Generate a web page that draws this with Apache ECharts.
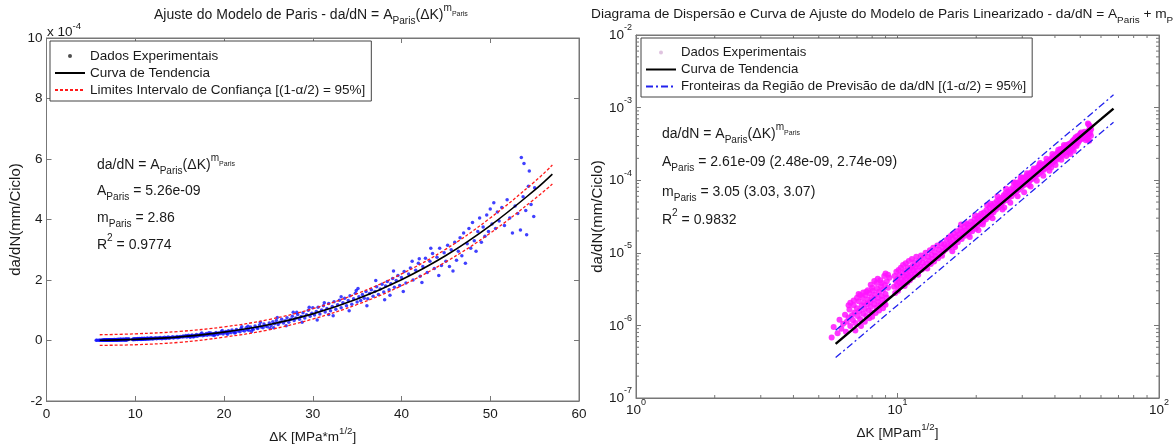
<!DOCTYPE html>
<html><head><meta charset="utf-8">
<script src="https://cdn.jsdelivr.net/npm/echarts@6/dist/echarts.min.js"></script>
<style>html,body{margin:0;padding:0;background:#fff}#c{width:1173px;height:448px}</style>
</head><body><div id="c"></div>
<script>
// ---- experimental data: [ΔK (MPa·m^1/2), da/dN (x1e-4 mm/ciclo)] ----
const expA = [[5.6,0.0068],[5.7,0.0095],[5.9,0.0078],[6.0,0.0120],[6.1,0.0090],[6.2,0.0105],[6.3,0.0140],[6.35,0.0082],[6.4,0.0112],[6.5,0.0128],[6.55,0.0165],[6.6,0.0098],[6.7,0.0138],[6.75,0.0118],[6.8,0.0190],[6.85,0.0150],[6.9,0.0108],[7.0,0.0172],[7.05,0.0135],[7.1,0.0215],[7.15,0.0158],[7.2,0.0122],[7.3,0.0188],[7.35,0.0240],[7.4,0.0145],[7.45,0.0205],[7.5,0.0170],[7.55,0.0260],[7.6,0.0135],[7.65,0.0195],[7.7,0.0225],[7.75,0.0160],[7.8,0.0280],[7.85,0.0210],[7.9,0.0180],[7.95,0.0245],[8.0,0.0150],[8.05,0.0300],[8.1,0.0228],[8.15,0.0195],[8.2,0.0265],[8.3,0.0175],[8.35,0.0320],[8.4,0.0240],[8.45,0.0210],[8.5,0.0290],[8.6,0.0190],[8.65,0.0345],[8.7,0.0255],[8.75,0.0225],[8.8,0.0310],[8.9,0.0205],[8.95,0.0360],[9.0,0.0270],[9.1,0.0240],[9.2,0.0330]];
const expH = [[6.5,0.0190],[6.8,0.0220],[7.0,0.0240],[7.2,0.0262],[7.4,0.0285],[7.7,0.0305],[7.9,0.0362],[8.0,0.0330],[8.3,0.0385],[8.4,0.0440],[8.6,0.0420],[8.9,0.0480],[9.0,0.0520],[9.1,0.0405],[9.3,0.0455],[6.9,0.0085],[7.5,0.0112],[7.8,0.0125],[8.0,0.0132],[8.5,0.0160],[9.0,0.0192],[7.25,0.0098],[8.25,0.0148],[8.8,0.0172],[7.6,0.0290],[8.15,0.0410],[8.7,0.0385],[6.6,0.0205],[7.1,0.0270],[9.2,0.0500]];
const expB = [[9.7,0.034],[9.75,0.048],[9.8,0.028],[9.85,0.041],[9.9,0.055],[9.95,0.036],[10.0,0.044],[10.05,0.030],[10.1,0.058],[10.15,0.039],[10.2,0.049],[10.25,0.034],[10.3,0.062],[10.35,0.043],[10.4,0.038],[10.45,0.053],[10.5,0.068],[10.55,0.040],[10.6,0.047],[10.65,0.035],[10.7,0.057],[10.75,0.072],[10.8,0.045],[10.85,0.052],[10.9,0.039],[10.95,0.063],[11.0,0.048],[11.05,0.077],[11.1,0.056],[11.15,0.042],[11.2,0.061],[11.3,0.050],[11.35,0.082],[11.4,0.066],[11.45,0.046],[11.5,0.058],[11.6,0.074],[11.65,0.052],[11.7,0.063],[11.8,0.088],[11.85,0.057],[11.9,0.069],[12.0,0.050],[12.1,0.078],[12.2,0.065],[12.3,0.092],[12.4,0.059],[12.5,0.073],[12.6,0.085],[12.7,0.064],[12.8,0.100],[12.9,0.072],[13.0,0.061],[13.1,0.088],[13.2,0.078],[13.3,0.108],[13.4,0.070],[13.5,0.093],[13.6,0.082],[13.7,0.117],[13.8,0.076],[13.9,0.101],[14.0,0.090],[14.2,0.126],[14.3,0.084],[14.4,0.110],[14.6,0.097],[14.7,0.135],[14.8,0.091],[14.9,0.118],[15.0,0.105]];
const expC = [[15.1,0.130],[15.3,0.112],[15.4,0.150],[15.5,0.124],[15.7,0.162],[15.8,0.118],[15.9,0.141],[16.0,0.172],[16.1,0.133],[16.3,0.155],[16.4,0.185],[16.5,0.128],[16.7,0.166],[16.8,0.148],[16.9,0.198],[17.0,0.140],[17.2,0.180],[17.3,0.162],[17.4,0.212],[17.6,0.155],[17.7,0.195],[17.8,0.176],[18.0,0.228],[18.1,0.172],[18.2,0.205],[18.4,0.190],[18.5,0.245],[18.7,0.182],[18.8,0.222],[19.0,0.206],[19.1,0.268],[19.3,0.198],[19.4,0.245],[19.6,0.228],[19.7,0.290],[19.9,0.215],[20.0,0.262],[20.2,0.300],[20.3,0.240],[20.5,0.322],[20.6,0.272],[20.8,0.255],[20.9,0.345],[21.1,0.292],[21.3,0.268],[21.4,0.360],[21.6,0.310],[21.8,0.290],[21.9,0.390],[22.1,0.335],[22.3,0.312],[22.5,0.420],[22.6,0.358],[22.8,0.335],[23.0,0.450],[23.2,0.385],[23.3,0.362],[23.5,0.480],[23.7,0.420],[23.8,0.395],[24.0,0.515],[24.2,0.450],[24.4,0.425],[24.5,0.548],[24.7,0.482],[24.9,0.455]];
const expD = [[25.1,0.58],[25.3,0.50],[25.5,0.62],[25.7,0.55],[25.9,0.66],[26.1,0.53],[26.3,0.60],[26.5,0.70],[26.7,0.58],[26.9,0.65],[27.1,0.75],[27.3,0.60],[27.5,0.70],[27.7,0.80],[27.9,0.66],[28.1,0.74],[28.3,0.86],[28.5,0.70],[28.7,0.79],[28.9,0.92],[29.1,0.74],[29.3,0.85],[29.5,1.00],[29.7,0.80],[29.9,0.90],[30.0,1.08],[30.2,0.84],[30.4,0.96],[30.6,1.10],[30.8,0.88],[31.0,1.01],[31.2,1.15],[31.4,0.94],[31.6,1.06],[31.8,1.22],[32.0,0.98],[32.2,1.12],[32.4,1.28],[32.6,1.03],[32.8,1.18],[33.0,1.33],[33.2,1.08],[33.4,1.25],[33.6,1.40],[33.8,1.15],[34.0,1.32],[34.2,1.48],[34.4,1.20],[34.6,1.38],[34.8,1.56],[35.0,1.27]];
const expE = [[35.2,1.45],[35.4,1.32],[35.6,1.52],[35.8,1.40],[36.0,1.62],[36.2,1.38],[36.4,1.55],[36.6,1.68],[36.8,1.46],[37.0,1.62],[37.2,1.78],[37.4,1.52],[37.6,1.70],[37.8,1.86],[38.0,1.60],[38.2,1.80],[38.4,1.95],[38.6,1.68],[38.8,1.88],[39.0,2.05],[39.2,1.76],[39.4,1.98],[39.6,2.15],[39.8,1.82],[40.0,2.08],[40.3,2.28],[40.5,1.90],[40.8,2.20],[41.0,2.40],[41.3,2.00],[41.6,2.32],[41.9,2.55],[42.1,2.12],[42.4,2.45],[42.7,2.72],[42.9,2.25],[43.2,2.62],[43.5,2.88],[43.7,2.38],[44.0,2.75],[44.3,3.05],[44.5,2.48],[44.8,2.90]];
const expF = [[45.0,2.62],[45.2,3.15],[45.4,2.45],[45.6,3.00],[45.8,2.30],[46.0,3.25],[46.2,2.65],[46.4,2.95],[46.6,3.40],[46.8,2.80],[47.0,3.55],[47.2,2.55],[47.4,3.20],[47.6,3.70],[47.8,3.05],[48.0,3.90],[48.2,3.30],[48.4,2.95],[48.6,3.60],[48.8,4.05],[49.0,3.25],[49.2,3.75],[49.4,3.45],[49.6,4.15],[49.8,3.60],[50.0,4.35],[50.2,3.85],[50.4,4.55],[50.6,3.70],[50.8,4.25],[51.0,3.95],[51.3,4.40],[51.6,3.80],[51.9,4.65],[52.2,4.05],[52.5,3.55],[52.8,4.45],[53.1,4.20],[53.4,3.65],[53.5,6.05],[53.7,4.75],[53.8,5.85],[54.0,4.30],[54.1,3.50],[54.3,5.10],[54.4,5.60],[54.6,4.50],[54.9,4.10],[55.0,5.05]];
const expG = [[16.2,0.105],[16.6,0.120],[17.5,0.245],[18.3,0.255],[18.9,0.165],[19.8,0.330],[20.4,0.205],[21.2,0.245],[22.0,0.455],[22.7,0.475],[23.1,0.300],[24.1,0.600],[25.2,0.395],[25.6,0.420],[26.0,0.760],[27.0,0.490],[27.8,0.930],[28.2,0.930],[28.8,0.600],[29.6,1.10],[30.5,0.68],[31.3,1.25],[31.8,0.86],[32.3,0.82],[33.2,1.45],[34.1,0.98],[34.9,1.65],[35.1,1.72],[36.1,1.15],[37.1,1.98],[38.1,1.35],[38.7,1.50],[39.1,2.30],[40.2,1.62],[41.2,2.62],[42.0,2.70],[42.3,1.92],[43.3,3.05],[44.2,2.15]];

// ---- left panel: fitted curve and confidence limits (x1e-4 mm/ciclo) ----
const fitK  = [6, 10, 15, 20, 25, 30, 35, 40, 45, 50, 55, 57];
const fitV  = [0.009, 0.038, 0.12, 0.277, 0.52, 0.88, 1.37, 2.01, 2.81, 3.80, 4.97, 5.50];
const ciUp  = [0.19, 0.22, 0.30, 0.45, 0.69, 1.05, 1.55, 2.20, 3.02, 4.05, 5.25, 5.80];
const ciLo  = [-0.16, -0.14, -0.06, 0.11, 0.35, 0.71, 1.19, 1.81, 2.60, 3.55, 4.68, 5.17];

// ---- right panel: linearized fit and prediction bounds (mm/ciclo) ----
const logFitK = [5.8, 10, 20, 30, 40, 50, 60, 67];
const logFitV = [5.56e-7, 2.93e-6, 2.42e-5, 8.35e-5, 2.01e-4, 3.97e-4, 6.92e-4, 9.7e-4];
const predUp  = [8.6e-7, 4.5e-6, 3.75e-5, 1.29e-4, 3.1e-4, 6.1e-4, 1.07e-3, 1.5e-3];
const predLo  = [3.6e-7, 1.9e-6, 1.56e-5, 5.4e-5, 1.3e-4, 2.58e-4, 4.5e-4, 6.3e-4];

// ---- minor tick positions of the log axes ----
const minorMant = [2, 3, 4, 5, 6, 7, 8, 9];
const xDecades = [1, 10];
const yDecades = [1e-7, 1e-6, 1e-5, 1e-4, 1e-3];

const expData = [].concat(expA, expH, expB, expC, expD, expE, expF, expG);
const expDataMM = expData.map(p => [p[0], p[1] * 1e-4]);
const zip = (a, b) => a.map((v, i) => [v, b[i]]);
const minorX = [], minorY = [];
xDecades.forEach(d => minorMant.forEach(m => minorX.push([m * d, 1e-7])));
yDecades.forEach(d => minorMant.forEach(m => minorY.push([1, m * d])));

const FF = '"Liberation Sans", Arial, Helvetica, sans-serif';
const TXT = '#1a1a1a';
const AX = '#777';
function mkRich(fs) {
  return {
    n:   {fontSize: fs, lineHeight: fs + 2, padding: [0,0,4,0], verticalAlign: 'bottom', fontFamily: FF, color: TXT},
    sub: {fontSize: fs * 0.72, lineHeight: fs * 0.72 + 1, padding: [0,0,0,0], verticalAlign: 'bottom', fontFamily: FF, color: TXT},
    sup: {fontSize: fs * 0.72, lineHeight: fs * 0.72 + 1, padding: [0,0,fs - 1,0], verticalAlign: 'bottom', fontFamily: FF, color: TXT},
    ss:  {fontSize: fs * 0.5, lineHeight: fs * 0.5 + 1, padding: [0,0,fs * 0.62,0], verticalAlign: 'bottom', fontFamily: FF, color: TXT}
  };
}
const rich14 = mkRich(14), richR = mkRich(13.7), rich135 = mkRich(13.5);
const logRich = {
  b: {fontSize: 13.5, lineHeight: 15, padding: [0,0,0,0], verticalAlign: 'bottom', fontFamily: FF, color: TXT},
  e: {fontSize: 9,  lineHeight: 10,  padding: [0,0,10,0], verticalAlign: 'bottom', fontFamily: FF, color: TXT}
};
const logLabel = v => '{b|10}{e|' + Math.round(Math.log10(v)) + '}';

function T(left, top, text, r) {
  return {left, top, padding: 0, text, textStyle: {rich: r || rich14, fontFamily: FF, fontSize: 14, fontWeight: 'normal', color: TXT}};
}

const axisCommon = {
  axisLine: {show: true, onZero: false, lineStyle: {color: AX, width: 1}},
  axisTick: {show: true, inside: true, length: 5, lineStyle: {color: AX, width: 1}},
  splitLine: {show: false},
  minorTick: {show: false}
};
const linLabel = (show, m) => ({show, color: TXT, fontFamily: FF, fontSize: 13.5, margin: m});
function linX(grid, pos, label, extra) {
  return Object.assign({type: 'value', gridIndex: grid, position: pos, min: 0, max: 60, interval: 10,
    axisLabel: linLabel(label, 6)}, axisCommon, extra || {});
}
function linY(grid, pos, label, extra) {
  return Object.assign({type: 'value', gridIndex: grid, position: pos, min: -2, max: 10, interval: 2,
    axisLabel: linLabel(label, 4)}, axisCommon, extra || {});
}
function logX(grid, pos, label, extra) {
  return Object.assign({type: 'log', logBase: 10, gridIndex: grid, position: pos, min: 1, max: 100,
    axisLabel: {show: label, formatter: logLabel, rich: logRich, margin: 4}}, axisCommon, extra || {});
}
function logY(grid, pos, label, extra) {
  return Object.assign({type: 'log', logBase: 10, gridIndex: grid, position: pos, min: 1e-7, max: 1e-2,
    axisLabel: {show: label, formatter: logLabel, rich: logRich, margin: 4}}, axisCommon, extra || {});
}

const minorTickLen = 3;
function minorRender(isX) {
  return function (params, api) {
    const v = isX ? api.value(0) : api.value(1);
    const st = {stroke: AX, lineWidth: 1};
    if (isX) {
      const b = api.coord([v, 1e-7]), t = api.coord([v, 1e-2]);
      return {type: 'group', children: [
        {type: 'line', shape: {x1: b[0], y1: b[1], x2: b[0], y2: b[1] - minorTickLen}, style: st},
        {type: 'line', shape: {x1: t[0], y1: t[1], x2: t[0], y2: t[1] + minorTickLen}, style: st}]};
    } else {
      const l = api.coord([1, v]), r = api.coord([100, v]);
      return {type: 'group', children: [
        {type: 'line', shape: {x1: l[0], y1: l[1], x2: l[0] + minorTickLen, y2: l[1]}, style: st},
        {type: 'line', shape: {x1: r[0], y1: r[1], x2: r[0] - minorTickLen, y2: r[1]}, style: st}]};
    }
  };
}

const NAME_CI = 'Limites Intervalo de Confiança [(1-α/2) = 95%]';
const NAME_PB = 'Fronteiras da Região de Previsão de da/dN [(1-α/2) = 95%]';
const noDot = {opacity: 0, color: 'rgba(0,0,0,0)', borderWidth: 0};

const option = {
  backgroundColor: '#fff',
  animation: false,
  title: [
    T(154, 10, '{n|Ajuste do Modelo de Paris - da/dN = A}{sub|Paris}{n|(ΔK)}{sup|m}{ss|Paris}'),
    T(591, 10, '{n|Diagrama de Dispersão e Curva de Ajuste do Modelo de Paris Linearizado - da/dN = A}{sub|Paris}{n| + m}{sub|Paris}', richR),
    T(47, 28, '{n|x 10}{sup|-4}', rich135),
    T(97, 160, '{n|da/dN = A}{sub|Paris}{n|(ΔK)}{sup|m}{ss|Paris}'),
    T(97, 186, '{n|A}{sub|Paris}{n| = 5.26e-09}'),
    T(97, 213, '{n|m}{sub|Paris}{n| = 2.86}'),
    T(97, 240, '{n|R}{sup|2}{n| = 0.9774}'),
    T(662, 129, '{n|da/dN = A}{sub|Paris}{n|(ΔK)}{sup|m}{ss|Paris}'),
    T(662, 157, '{n|A}{sub|Paris}{n| = 2.61e-09 (2.48e-09, 2.74e-09)}'),
    T(662, 187, '{n|m}{sub|Paris}{n| = 3.05 (3.03, 3.07)}'),
    T(662, 215, '{n|R}{sup|2}{n| = 0.9832}')
  ],
  legend: [
    {
      left: 50, top: 41, orient: 'vertical', itemWidth: 30, itemHeight: 4, itemGap: 3,
      padding: [8, 6, 4, 4], borderColor: '#444', borderWidth: 1, backgroundColor: '#fff',
      selectedMode: false, textStyle: {fontFamily: FF, fontSize: 13.5, color: TXT},
      formatter: n => n.trim(),
      data: [{name: 'Dados Experimentais', icon: 'circle', itemStyle: {color: '#222'}},
             {name: 'Curva de Tendencia', itemStyle: noDot}, {name: NAME_CI, itemStyle: noDot}]
    },
    {
      left: 641, top: 38, orient: 'vertical', itemWidth: 30, itemHeight: 4, itemGap: 4,
      padding: [8, 6, 4, 4], borderColor: '#444', borderWidth: 1, backgroundColor: '#fff',
      selectedMode: false, textStyle: {fontFamily: FF, fontSize: 13.2, color: TXT},
      formatter: n => n.trim(),
      data: [{name: 'Dados Experimentais ', icon: 'circle', itemStyle: {color: '#d9b8d9'}},
             {name: 'Curva de Tendencia ', itemStyle: noDot}, {name: NAME_PB, itemStyle: noDot}]
    }
  ],
  grid: [
    {left: 46.5, top: 38, width: 532.5, height: 363, containLabel: false, outerBoundsMode: 'none',
      show: true, borderColor: AX, borderWidth: 1, backgroundColor: '#fff'},
    {left: 636, top: 35, width: 523, height: 363, containLabel: false, outerBoundsMode: 'none',
      show: true, borderColor: AX, borderWidth: 1, backgroundColor: '#fff'}
  ],
  xAxis: [
    linX(0, 'bottom', true, {name: '{n|ΔK [MPa*m}{sup|1/2}{n|]}', nameLocation: 'middle', nameGap: 25,
      nameTextStyle: {rich: rich135}}),
    linX(0, 'top', false),
    logX(1, 'bottom', true, {name: '{n|ΔK [MPam}{sup|1/2}{n|]}', nameLocation: 'middle', nameGap: 28,
      nameTextStyle: {rich: rich135}}),
    logX(1, 'top', false)
  ],
  yAxis: [
    linY(0, 'left', true, {name: 'da/dN(mm/Ciclo)', nameLocation: 'middle', nameGap: 20,
      nameTextStyle: {fontFamily: FF, fontSize: 15, color: TXT}}),
    linY(0, 'right', false),
    logY(1, 'left', true, {name: 'da/dN(mm/Ciclo)', nameLocation: 'middle', nameGap: 26,
      nameTextStyle: {fontFamily: FF, fontSize: 15, color: TXT}}),
    logY(1, 'right', false)
  ],
  series: [
    {type: 'scatter', name: 'Dados Experimentais', xAxisIndex: 0, yAxisIndex: 0, data: expData,
      symbol: 'circle', symbolSize: 3.5, itemStyle: {color: '#1010ff'}, silent: true},
    {type: 'line', name: 'Curva de Tendencia', xAxisIndex: 0, yAxisIndex: 0, data: zip(fitK, fitV),
      smooth: 0.4, symbol: 'none', lineStyle: {color: '#000', width: 1.6}, silent: true},
    {type: 'line', name: NAME_CI, xAxisIndex: 0, yAxisIndex: 0, data: zip(fitK, ciUp),
      smooth: 0.4, symbol: 'none', lineStyle: {color: '#ff1a1a', width: 1.3, type: [3, 2]}, silent: true},
    {type: 'line', name: NAME_CI, xAxisIndex: 0, yAxisIndex: 0, data: zip(fitK, ciLo),
      smooth: 0.4, symbol: 'none', lineStyle: {color: '#ff1a1a', width: 1.3, type: [3, 2]}, silent: true},

    {type: 'scatter', name: 'Dados Experimentais ', xAxisIndex: 2, yAxisIndex: 2, data: expDataMM,
      symbol: 'circle', symbolSize: 6, itemStyle: {color: '#ff14ff', opacity: 0.85}, silent: true},
    {type: 'line', name: 'Curva de Tendencia ', xAxisIndex: 2, yAxisIndex: 2, data: zip(logFitK, logFitV),
      symbol: 'none', lineStyle: {color: '#000', width: 2.4}, silent: true},
    {type: 'line', name: NAME_PB, xAxisIndex: 2, yAxisIndex: 2, data: zip(logFitK, predUp),
      symbol: 'none', lineStyle: {color: '#2222ee', width: 1.3, type: [7, 3, 2, 3]}, silent: true},
    {type: 'line', name: NAME_PB, xAxisIndex: 2, yAxisIndex: 2, data: zip(logFitK, predLo),
      symbol: 'none', lineStyle: {color: '#2222ee', width: 1.3, type: [7, 3, 2, 3]}, silent: true},
    {type: 'custom', name: 'minorX', xAxisIndex: 2, yAxisIndex: 2, data: minorX, renderItem: minorRender(true), silent: true, clip: false},
    {type: 'custom', name: 'minorY', xAxisIndex: 2, yAxisIndex: 2, data: minorY, renderItem: minorRender(false), silent: true, clip: false}
  ]
};
const chart = echarts.init(document.getElementById('c'), null, {renderer: 'canvas'});
chart.setOption(option);
</script>
</body></html>
